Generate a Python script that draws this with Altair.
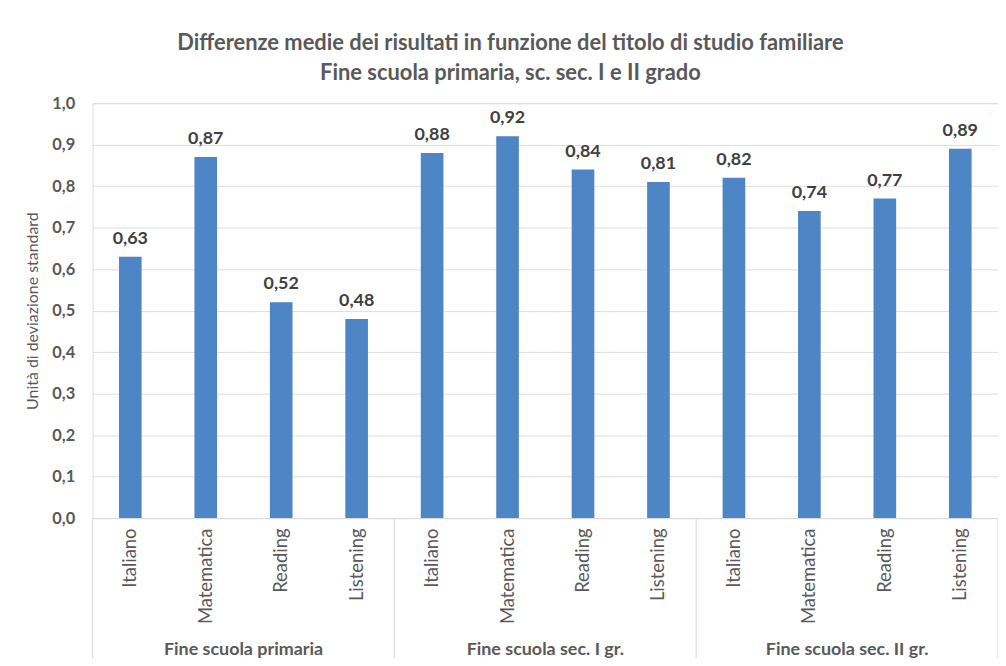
import altair as alt
import pandas as pd

groups = ["Fine scuola primaria", "Fine scuola sec. I gr.", "Fine scuola sec. II gr."]
subjects = ["Italiano", "Matematica", "Reading", "Listening"]
values = [
    [0.63, 0.87, 0.52, 0.48],
    [0.88, 0.92, 0.84, 0.81],
    [0.82, 0.74, 0.77, 0.89],
]
y_ticks = [0.0, 0.1, 0.2, 0.3, 0.4, 0.5, 0.6, 0.7, 0.8, 0.9, 1.0]

rows = []
for g, vals in zip(groups, values):
    for s, v in zip(subjects, vals):
        rows.append({"key": f"{g}|{s}", "group": g, "subject": s, "value": v})
df = pd.DataFrame(rows)
order = list(df["key"])

n = len(order)
per = len(subjects)
sep_df = pd.DataFrame({"pos": [i * per for i in range(len(groups) + 1)]})
grp_df = pd.DataFrame({"center": [i * per + per / 2 for i in range(len(groups))], "group": groups})

FONT = "Lato"
GRAY = "#595959"
W, H = 910, 417

band_scale = alt.Scale(paddingInner=0.7, paddingOuter=0.35)
xband = alt.X(
    "key:N",
    sort=order,
    scale=band_scale,
    axis=alt.Axis(
        title=None,
        labelExpr="split(datum.label, '|')[1]",
        labelAngle=-90,
        labelAlign="right",
        labelBaseline="middle",
        labelPadding=10,
        labelFontSize=18.5,
        labelColor=GRAY,
        labelFont=FONT,
        labelFontWeight="normal",
        ticks=False,
        domainColor="#d9d9d9",
        labelLimit=200,
    ),
)
yq = alt.Y(
    "value:Q",
    scale=alt.Scale(domain=[0, 1]),
    axis=alt.Axis(
        values=y_ticks,
        labelExpr="replace(format(datum.value, '.1f'), '.', ',')",
        title="Unità di deviazione standard",
        titleFont=FONT,
        titleFontSize=16,
        titleFontWeight="normal",
        titleColor=GRAY,
        titlePadding=11,
        labelFont=FONT,
        labelFontSize=16.5,
        labelFontWeight="bold",
        labelColor=GRAY,
        labelPadding=18,
        ticks=False,
        domain=False,
        gridColor="#dedede",
    ),
)

base = alt.Chart(df)
bars = base.mark_bar(color="#4e85c5").encode(x=xband, y=yq)
labels = base.mark_text(
    dy=-9, baseline="bottom", font=FONT, fontSize=18, fontWeight="bold", color="#404040"
).encode(
    x=alt.X("key:N", sort=order, scale=band_scale, axis=None),
    y=alt.Y("value:Q"),
    text=alt.Text("lbl:N"),
).transform_calculate(lbl="replace(format(datum.value, '.2f'), '.', ',')")

xlin = alt.X("pos:Q", scale=alt.Scale(domain=[0, n]), axis=None)
seps = alt.Chart(sep_df).mark_rule(color="#d9d9d9", strokeWidth=1).encode(
    x=xlin, y=alt.value(H), y2=alt.value(H + 150)
)
glabels = alt.Chart(grp_df).mark_text(
    font=FONT, fontSize=18, fontWeight="bold", color=GRAY, baseline="middle"
).encode(
    x=alt.X("center:Q", scale=alt.Scale(domain=[0, n]), axis=None),
    y=alt.value(H + 133),
    text="group:N",
)

chart = alt.layer(bars, labels, seps, glabels).resolve_scale(x="independent").properties(
    width=W,
    height=H,
    padding={"left": 85, "top": 94, "right": 0, "bottom": 139},
    autosize=alt.AutoSizeParams(type="none"),
    title=alt.TitleParams(
        text=["Differenze medie dei risultati in funzione del titolo di studio familiare",
              "Fine scuola primaria, sc. sec. I e II grado"],
        font=FONT,
        fontSize=22,
        fontWeight="bold",
        color=GRAY,
        anchor="middle",
        dx=-35,
        dy=8,
        offset=18,
        lineHeight=30,
    ),
).configure_view(stroke=None).configure(background="white")

chart.save("out.html", embed_options={"renderer": "svg", "actions": False})
